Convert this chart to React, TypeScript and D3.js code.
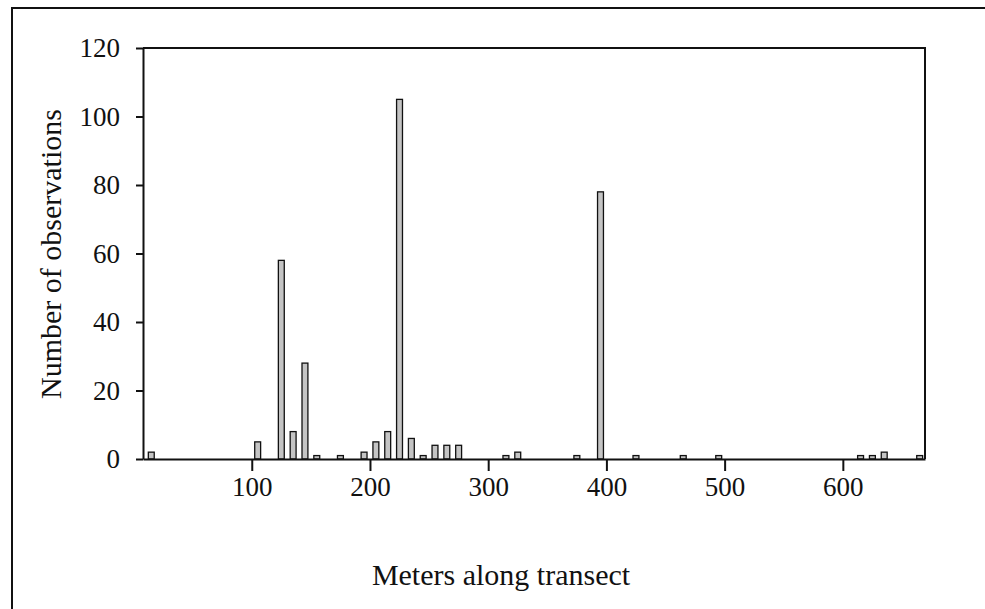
import { useEffect, useRef } from "react";
import * as d3 from "d3";

// bin centres (m) and number of observations in each 10 m bin
const meters = [
  15, 105, 125, 135, 145, 155, 175, 195, 205, 215, 225, 235, 245, 255, 265,
  275, 315, 325, 375, 395, 425, 465, 495, 615, 625, 635, 665,
];
const counts = [
  2, 5, 58, 8, 28, 1, 1, 2, 5, 8, 105, 6, 1, 4, 4, 4, 1, 2, 1, 78, 1, 1, 1, 1,
  1, 2, 1,
];
const xTicks = [100, 200, 300, 400, 500, 600];
const yTicks = [0, 20, 40, 60, 80, 100, 120];

const FONT = "'Liberation Serif', 'Times New Roman', serif";

export default function App() {
  const svgRef = useRef<SVGSVGElement>(null);

  useEffect(() => {
    if (!svgRef.current) return;
    const svg = d3.select(svgRef.current);
    const width = 985;
    const height = 609;
    const plot = { left: 143, right: 925, top: 48, bottom: 459 };

    svg.selectAll("*").remove();
    svg.attr("viewBox", `0 0 ${width} ${height}`);

    const data = meters.map((m, i) => ({ m, n: counts[i] }));

    const x = d3
      .scaleLinear()
      .domain([8, 669.5])
      .range([plot.left, plot.right]);
    const y = d3
      .scaleLinear()
      .domain([0, 120])
      .range([plot.bottom, plot.top]);

    // outer frame
    svg
      .append("path")
      .attr("d", `M12,${height + 5} L12,8 L${width + 5},8`)
      .attr("fill", "none")
      .attr("stroke", "#111")
      .attr("stroke-width", 2);

    // bars
    svg
      .append("g")
      .selectAll("rect")
      .data(data)
      .enter()
      .append("rect")
      .attr("x", (d) => x(d.m - 2.5))
      .attr("width", (d) => x(d.m + 2.5) - x(d.m - 2.5))
      .attr("y", (d) => y(d.n))
      .attr("height", (d) => y(0) - y(d.n))
      .attr("fill", "#c4c4c4")
      .attr("stroke", "#111")
      .attr("stroke-width", 1.3);

    // plot box: top and right edges
    svg
      .append("path")
      .attr(
        "d",
        `M${plot.left},${plot.top} L${plot.right},${plot.top} L${plot.right},${plot.bottom}`,
      )
      .attr("fill", "none")
      .attr("stroke", "#111")
      .attr("stroke-width", 2);

    // y axis
    const yAxis = svg
      .append("g")
      .attr("transform", `translate(${plot.left},0)`)
      .call(
        d3
          .axisLeft(y)
          .tickValues(yTicks)
          .tickSize(7)
          .tickPadding(16)
          .tickSizeOuter(0),
      );
    yAxis.select(".domain").attr("stroke", "#111").attr("stroke-width", 2);
    yAxis.selectAll(".tick line").attr("stroke", "#111").attr("stroke-width", 2);
    yAxis
      .selectAll(".tick text")
      .attr("font-family", FONT)
      .attr("font-size", 27)
      .attr("fill", "#111");

    // x axis
    const xAxis = svg
      .append("g")
      .attr("transform", `translate(0,${plot.bottom})`)
      .call(
        d3
          .axisBottom(x)
          .tickValues(xTicks)
          .tickSize(12)
          .tickPadding(6)
          .tickSizeOuter(0),
      );
    xAxis.select(".domain").attr("stroke", "#111").attr("stroke-width", 2);
    xAxis.selectAll(".tick line").attr("stroke", "#111").attr("stroke-width", 2);
    xAxis
      .selectAll(".tick text")
      .attr("font-family", FONT)
      .attr("font-size", 27)
      .attr("fill", "#111");

    // axis titles
    svg
      .append("text")
      .attr("x", (plot.left + plot.right) / 2 - 33)
      .attr("y", 585)
      .attr("text-anchor", "middle")
      .attr("font-family", FONT)
      .attr("font-size", 30)
      .attr("fill", "#111")
      .text("Meters along transect");

    svg
      .append("text")
      .attr("transform", `translate(61,254) rotate(-90)`)
      .attr("text-anchor", "middle")
      .attr("font-family", FONT)
      .attr("font-size", 30)
      .attr("fill", "#111")
      .text("Number of observations");
  }, []);

  return (
    <svg
      ref={svgRef}
      width={985}
      height={609}
      style={{ position: "absolute", left: 0, top: 0, background: "#fff" }}
    />
  );
}
